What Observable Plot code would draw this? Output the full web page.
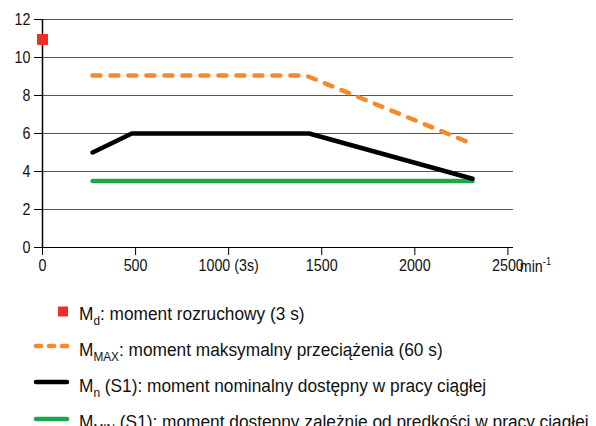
<!DOCTYPE html>
<html>
<head>
<meta charset="utf-8">
<script src="https://cdn.jsdelivr.net/npm/d3@7"></script>
<script src="https://cdn.jsdelivr.net/npm/@observablehq/plot@0.6"></script>
<style>
  html, body { margin: 0; padding: 0; background: #fff; }
  body { width: 596px; height: 426px; overflow: hidden; font-family: "Liberation Sans", Arial, sans-serif; }
  #chart svg, #legend svg { display: block; }
</style>
</head>
<body>
<div id="chart"></div>
<div id="legend"></div>
<script>
// ---- data ----
const xTicks = [0, 500, 1000, 1500, 2000, 2500];
const xTickLabels = ["0", "500", "1000 (3s)", "1500", "2000", "2500"];
const yTicks = [0, 2, 4, 6, 8, 10, 12];

const startSpeed = [0];
const startTorque = [10.95];

const maxSpeed = [268, 1415, 2310];
const maxTorque = [9.05, 9.05, 5.45];

const nomSpeed = [269, 480, 1432, 2310];
const nomTorque = [5.0, 6.0, 6.0, 3.62];

const minSpeed = [269, 2310];
const minTorque = [3.5, 3.5];

const unitLabel = "min";
const unitSup = "-1";

const legendItems = [
  {sub: "d", rest: ": moment rozruchowy (3 s)", kind: "square", color: "#ee2d24"},
  {sub: "MAX", rest: ": moment maksymalny przeciążenia (60 s)", kind: "dash", color: "#f68a2a"},
  {sub: "n", rest: " (S1): moment nominalny dostępny w pracy ciągłej", kind: "line", color: "#000000"},
  {sub: "MIN", rest: " (S1): moment dostępny zależnie od prędkości w pracy ciągłej", kind: "line", color: "#1aa84a"}
];

const toRows = (xs, ys) => xs.map((x, i) => ({x, y: ys[i]}));
const colors = {d: "#ee2d24", max: "#f68a2a", n: "#000000", min: "#1aa84a"};
const FONT = '"Liberation Sans", Arial, sans-serif';
const NARROW = 0.84;

const plot = Plot.plot({
  width: 596,
  height: 285,
  marginTop: 19,
  marginBottom: 38,
  marginLeft: 42,
  marginRight: 83,
  style: {fontFamily: FONT, fontSize: "17px", color: "#111", background: "#fff"},
  x: {domain: [0, 2530]},
  y: {domain: [0, 12]},
  marks: [
    Plot.ruleY(yTicks.filter(t => t > 0), {stroke: "#555", strokeWidth: 1}),
    Plot.ruleY([0], {stroke: "#000", strokeWidth: 1.2}),
    Plot.ruleX([0], {y1: 0, y2: 12, stroke: "#000", strokeWidth: 1.5}),
    Plot.axisY({ticks: yTicks, tickSize: 8, tickPadding: 4, fontSize: 17, label: null, stroke: "#000", strokeOpacity: 1}),
    Plot.axisX({ticks: xTicks, tickFormat: d => xTickLabels[xTicks.indexOf(d)], tickSize: 8, tickPadding: 3, fontSize: 17, label: null, stroke: "#000", strokeOpacity: 1}),
    Plot.line(toRows(minSpeed, minTorque), {x: "x", y: "y", stroke: colors.min, strokeWidth: 4.5}),
    Plot.line(toRows(nomSpeed, nomTorque), {x: "x", y: "y", stroke: colors.n, strokeWidth: 4.5, strokeLinecap: "round", strokeLinejoin: "round"}),
    Plot.line(toRows(maxSpeed, maxTorque), {x: "x", y: "y", stroke: colors.max, strokeWidth: 4.5, strokeDasharray: "8,10", strokeLinecap: "round"}),
    Plot.dot(toRows(startSpeed, startTorque), {x: "x", y: "y", symbol: "square", r: 6.2, fill: colors.d, stroke: "none"})
  ]
});
document.getElementById("chart").appendChild(plot);

// narrow the tick labels (compress glyphs, anchors untouched)
d3.select(plot).selectAll("g[aria-label$='tick label'] text").each(function () {
  const w = this.getComputedTextLength();
  if (w > 0) {
    this.setAttribute("textLength", (w * NARROW).toFixed(2));
    this.setAttribute("lengthAdjust", "spacingAndGlyphs");
  }
});

// unit label after last x tick
const sx = plot.scale("x"), sy = plot.scale("y");
const svg = d3.select(plot);
const ux = sx.apply(xTicks[xTicks.length - 1]) + 28;
const uy = sy.apply(0) + 25;
const ut = svg.append("text").attr("transform", `translate(${ux},${uy}) scale(${NARROW},1)`)
  .attr("font-family", FONT).attr("font-size", 17).attr("fill", "#111");
ut.append("tspan").text(unitLabel);
ut.append("tspan").attr("font-size", 11).attr("dy", -7).text(unitSup);

// legend (below the plot)
const lg = d3.select("#legend").append("svg").attr("width", 596).attr("height", 141);
const rowBase = 35, rowStep = 36;
legendItems.forEach((it, i) => {
  const base = rowBase + i * rowStep;
  const mid = base - 8;
  if (it.kind === "square") {
    lg.append("rect").attr("x", 58).attr("y", mid - 5.5).attr("width", 10).attr("height", 10).attr("fill", it.color);
  } else {
    const ly = mid - 2 + (i === 3 ? 1 : 0);
    lg.append("line").attr("x1", 36).attr("x2", 67).attr("y1", ly).attr("y2", ly)
      .attr("stroke", it.color).attr("stroke-width", 4.5)
      .attr("stroke-linecap", "round")
      .attr("stroke-dasharray", it.kind === "dash" ? "5,8" : null);
  }
  const t = lg.append("text")
    .attr("transform", `translate(79,${base}) scale(0.91,1)`)
    .attr("font-family", FONT).attr("font-size", 19).attr("fill", "#111");
  t.append("tspan").text("M");
  t.append("tspan").attr("font-size", 13).attr("dy", 5).text(it.sub);
  t.append("tspan").attr("dy", -5).text(it.rest);
});
</script>
</body>
</html>
